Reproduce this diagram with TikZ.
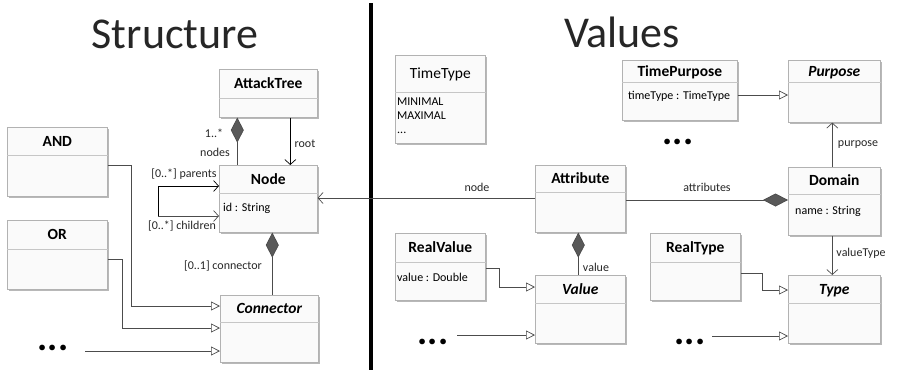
\documentclass[tikz,border=0pt]{standalone}
\usepackage{fontspec}
\setmainfont{Carlito}
\usetikzlibrary{arrows.meta,shadows}
\tikzset{
  umlbox/.style={anchor=north west, draw=gray!60, line width=0.6pt, fill=gray!4, inner sep=0pt,
    drop shadow={shadow xshift=2pt, shadow yshift=-2pt, fill=gray!70, opacity=0.8}},
  umlsep/.style={draw=gray!45, line width=0.6pt},
  umltitle/.style={inner sep=0pt, text height=10pt, text depth=0pt, font=\fontsize{15.5}{18}\selectfont\bfseries},
  umlattr/.style={anchor=base west, inner sep=0pt, align=left, font=\fontsize{12}{14}\selectfont},
  lbl/.style={inner sep=0pt, font=\fontsize{12}{14}\selectfont, text=black!85},
  conn/.style={draw=black!70, line width=0.7pt},
  gen/.style={conn, -{Triangle[open, length=9pt, width=9pt, fill=white]}},
  nav/.style={conn, -{Straight Barb[length=5pt, width=11pt]}},
  comp/.style={conn, {Diamond[length=25pt, width=13pt, fill=black!65]}-},
  heading/.style={anchor=base, inner sep=0pt, font=\fontsize{44}{50}\selectfont, text=black!85},
  dots/.style={inner sep=0pt, font=\fontsize{38}{40}\selectfont\bfseries}
}
\newcommand{\umlclass}[6]{%
  \node[umlbox, minimum width=#3pt, minimum height=#4pt] (#1) at #2 {};
  \draw[umlsep] ([yshift=-#5pt]#1.north west) -- ([yshift=-#5pt]#1.north east);
  \node[umltitle] (#1-title) at ([yshift=-#5pt/2]#1.north) {#6};
}
\begin{document}
\begin{tikzpicture}[x=1pt, y=-1pt]
  \useasboundingbox (0,0) rectangle (921,373);
  \node[heading] (structure) at (175,48) {Structure};
  \node[heading] (values) at (622,47) {Values};
  \draw[line width=4pt] (371,3) -- (371,370);

  \umlclass{attacktree}{(219,69)}{98}{48}{29}{AttackTree}
  \umlclass{treenode}{(219,165)}{98}{67}{28}{Node}
  \umlclass{and}{(7,127)}{100}{69}{28}{AND}
  \umlclass{or}{(7,220)}{100}{69}{29}{OR}
  \umlclass{connector}{(220,295)}{98}{67}{27}{\itshape Connector}
  \umlclass{timetype}{(395,55)}{90}{88}{37}{\mdseries TimeType}
  \umlclass{timepurpose}{(622,60)}{115}{60}{22}{TimePurpose}
  \umlclass{purpose}{(788,60)}{92}{62}{22}{\itshape Purpose}
  \umlclass{attribute}{(535,165)}{90}{67}{27}{Attribute}
  \umlclass{domain}{(788,167)}{92}{68}{27}{Domain}
  \umlclass{realvalue}{(395,233)}{90}{67}{29}{RealValue}
  \umlclass{value}{(535,275)}{90}{68}{28}{\itshape Value}
  \umlclass{realtype}{(650,233)}{90}{67}{29}{RealType}
  \umlclass{type}{(788,275)}{92}{68}{28}{\itshape Type}

  \node[umlattr] (treenode-id) at (223,211) {id : String};
  \node[umlattr, anchor=north west] (timetype-lits) at (397,98) {MINIMAL\\MAXIMAL\\...};
  \node[umlattr] (timepurpose-tt) at (628,99) {timeType : TimeType};
  \node[umlattr] (domain-name) at (795,214) {name : String};
  \node[umlattr] (realvalue-val) at (397,281) {value : Double};

  \node[dots] (cdots) at (53,348) {...};
  \node[dots] (vdots) at (433,342) {...};
  \node[dots] (tdots) at (690,342) {...};
  \node[dots] (pdots) at (678,142) {...};

  \draw[comp] ([xshift=-31pt]attacktree.south) -- ([xshift=-31pt]treenode.north);
  \draw[nav, draw=black] ([xshift=22pt]attacktree.south) -- ([xshift=22pt]treenode.north);
  \draw[conn, {Straight Barb[length=5pt, width=11pt]}-] ([yshift=-51pt]treenode.north west) -- ++(-61,0);
  \draw[nav, draw=black] ([xshift=-61pt,yshift=-51pt]treenode.north west) |- ([yshift=-21pt]treenode.north west);
  \draw[comp] ([xshift=4pt]treenode.south) -- ([xshift=3pt]connector.north);
  \draw[gen] ([yshift=-38pt]and.north east) -| ([xshift=-89pt,yshift=-11pt]connector.north west) -- ([yshift=-11pt]connector.north west);
  \draw[gen] ([yshift=-39pt]or.north east) -| ([xshift=-98pt,yshift=-33pt]connector.north west) -- ([yshift=-33pt]connector.north west);
  \draw[gen] ([xshift=-135pt,yshift=-56pt]connector.north west) -- ([yshift=-56pt]connector.north west);

  \draw[gen] ([yshift=-35pt]timepurpose.north east) -- ([yshift=-35pt]purpose.north west);
  \draw[nav] ([xshift=-2pt]domain.north) -- ([xshift=-2pt]purpose.south);
  \draw[nav] ([yshift=-33pt]attribute.north west) -- ([yshift=-33pt]treenode.north east);
  \draw[comp] ([yshift=-33pt]domain.north west) -- ([yshift=-35pt]attribute.north east);
  \draw[comp] ([xshift=-2pt]attribute.south) -- ([xshift=-2pt]value.north);
  \draw[gen] ([yshift=-35pt]realvalue.north east) -| ([xshift=-36pt,yshift=-12pt]value.north west) -- ([yshift=-12pt]value.north west);
  \draw[gen] ([xshift=-78pt,yshift=-60pt]value.north west) -- ([yshift=-60pt]value.north west);
  \draw[gen] ([yshift=-40pt]realtype.north east) -| ([xshift=-26pt,yshift=-15pt]type.north west) -- ([yshift=-15pt]type.north west);
  \draw[gen] ([xshift=-76pt,yshift=-61pt]type.north west) -- ([yshift=-61pt]type.north west);
  \draw[nav] ([xshift=-2pt]domain.south) -- ([xshift=-2pt]type.north);

  \node[lbl] (nodes-mult) at (214,133) {1..*};
  \node[lbl] (nodes-role) at (215,152) {nodes};
  \node[lbl] (root-role) at (305,144) {root};
  \node[lbl] (parents-role) at (184,174) {[0..*] parents};
  \node[lbl] (children-role) at (182,226) {[0..*] children};
  \node[lbl] (connector-role) at (223,266) {[0..1] connector};
  \node[lbl] (node-role) at (477,187) {node};
  \node[lbl] (attributes-role) at (707,187) {attributes};
  \node[lbl] (purpose-role) at (858,145) {purpose};
  \node[lbl] (value-role) at (596,267) {value};
  \node[lbl] (valuetype-role) at (861,253) {valueType};
\end{tikzpicture}
\end{document}
